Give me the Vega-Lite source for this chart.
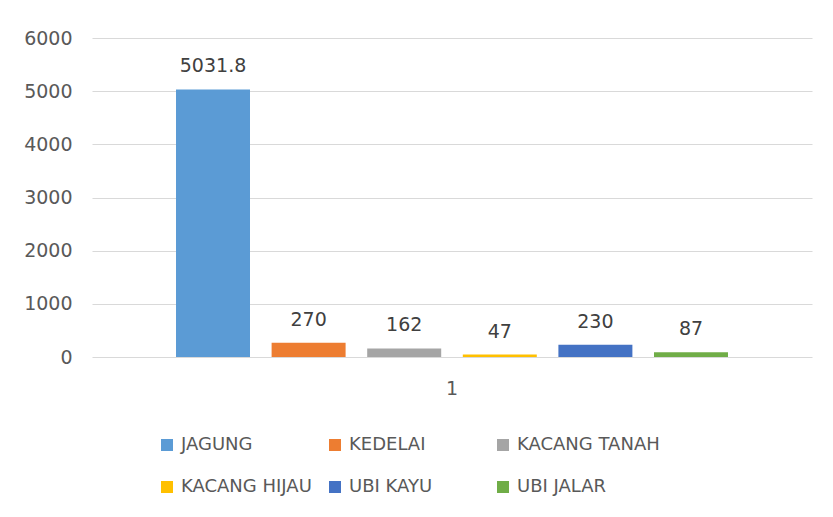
{
  "$schema": "https://vega.github.io/schema/vega-lite/v6.json",
  "width": 720,
  "height": 319,
  "autosize": "none",
  "padding": {"left": 92, "top": 38, "right": 21, "bottom": 160},
  "background": "white",
  "config": {"view": {"stroke": null}, "font": "DejaVu Sans"},
  "data": {
    "values": [
      {"cat": "1", "crop": "JAGUNG", "value": 5031.8},
      {"cat": "1", "crop": "KEDELAI", "value": 270},
      {"cat": "1", "crop": "KACANG TANAH", "value": 162},
      {"cat": "1", "crop": "KACANG HIJAU", "value": 47},
      {"cat": "1", "crop": "UBI KAYU", "value": 230},
      {"cat": "1", "crop": "UBI JALAR", "value": 87}
    ]
  },
  "encoding": {
    "x": {
      "field": "cat",
      "type": "nominal",
      "scale": {"paddingOuter": 0.1522, "paddingInner": 0},
      "axis": {
        "title": null,
        "labelAngle": 0,
        "domain": false,
        "ticks": false,
        "labelPadding": 22,
        "labelFontSize": 19,
        "labelColor": "#595959",
        "labelFont": "DejaVu Sans"
      }
    },
    "xOffset": {
      "field": "crop",
      "type": "nominal",
      "sort": ["JAGUNG", "KEDELAI", "KACANG TANAH", "KACANG HIJAU", "UBI KAYU", "UBI JALAR"],
      "scale": {"paddingInner": 0.226, "paddingOuter": 0}
    },
    "y": {
      "field": "value",
      "type": "quantitative",
      "scale": {"domain": [0, 6000], "nice": false},
      "axis": {
        "title": null,
        "values": [0, 1000, 2000, 3000, 4000, 5000, 6000],
        "format": "d",
        "domain": false,
        "ticks": false,
        "gridColor": "#d9d9d9",
        "gridWidth": 1,
        "labelPadding": 20,
        "labelFontSize": 19,
        "labelColor": "#595959",
        "labelFont": "DejaVu Sans"
      }
    }
  },
  "layer": [
    {
      "mark": {"type": "bar"},
      "encoding": {
        "color": {
          "field": "crop",
          "type": "nominal",
          "scale": {
            "domain": ["JAGUNG", "KEDELAI", "KACANG TANAH", "KACANG HIJAU", "UBI KAYU", "UBI JALAR"],
            "range": ["#5B9BD5", "#ED7D31", "#A5A5A5", "#FFC000", "#4472C4", "#70AD47"]
          },
          "legend": {
            "title": null,
            "orient": "none",
            "legendX": 66,
            "legendY": 398,
            "direction": "horizontal",
            "columns": 3,
            "gridAlign": "all",
            "columnPadding": 2,
            "rowPadding": 24,
            "padding": 0,
            "symbolType": "square",
            "symbolSize": 144,
            "symbolStrokeWidth": 0,
            "labelOffset": 5,
            "labelFontSize": 18,
            "labelColor": "#595959",
            "labelFont": "DejaVu Sans",
            "labelLimit": 300
          }
        }
      }
    },
    {
      "mark": {"type": "text", "baseline": "alphabetic", "dy": -17, "fontSize": 19, "color": "#404040", "font": "DejaVu Sans"},
      "encoding": {
        "text": {"field": "value", "type": "quantitative"}
      }
    }
  ]
}
